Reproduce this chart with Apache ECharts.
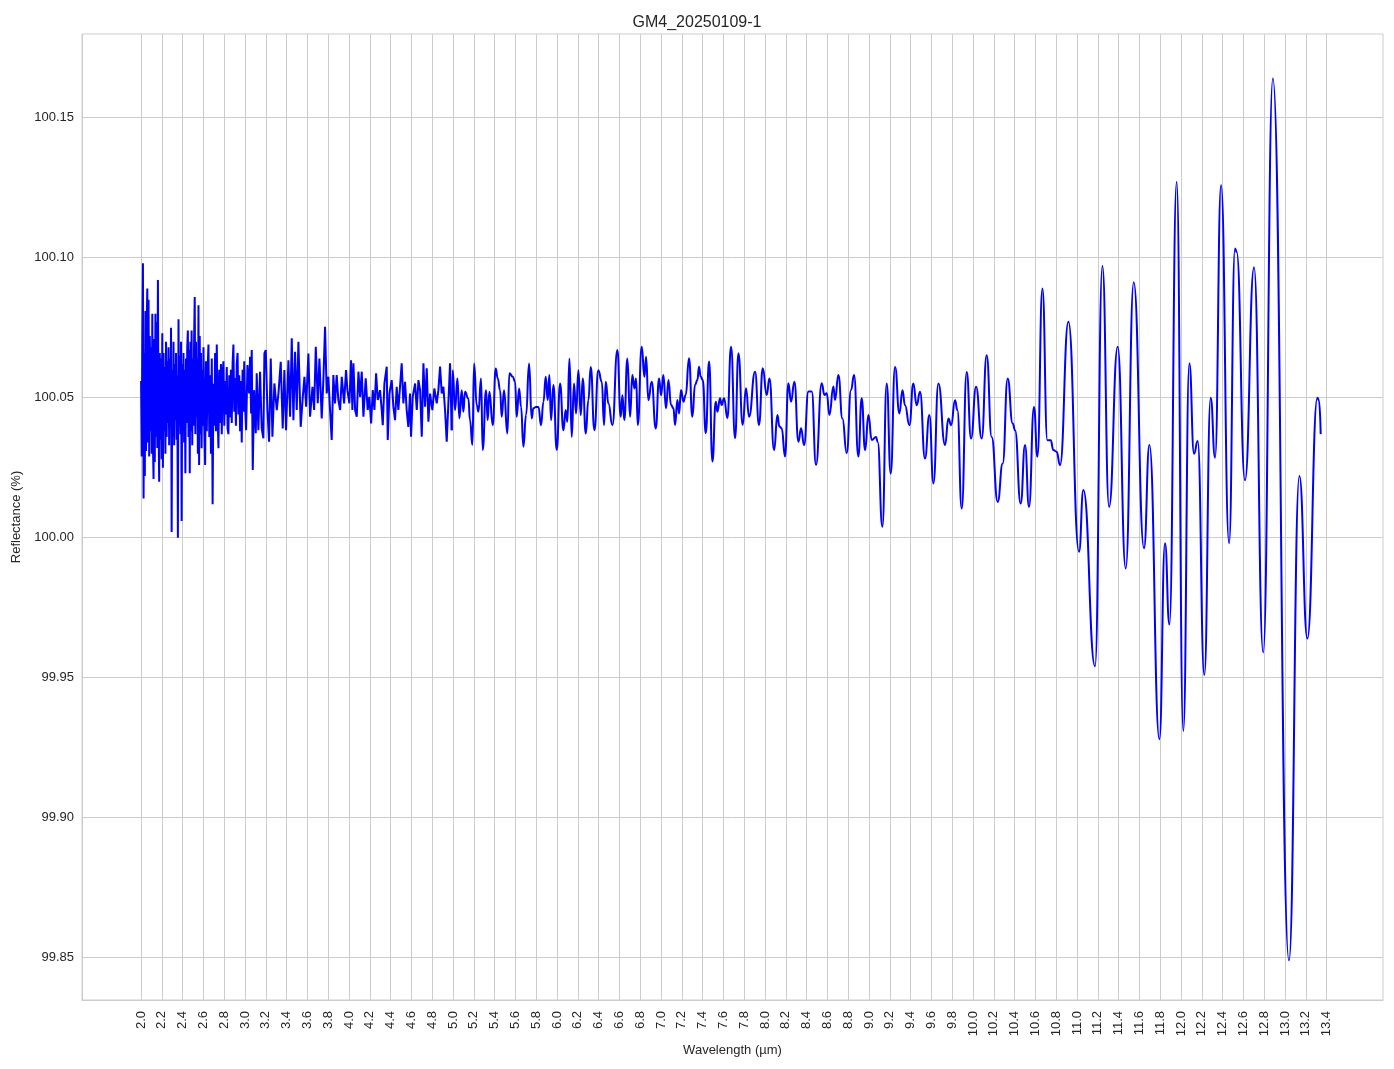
<!DOCTYPE html>
<html>
<head>
<meta charset="utf-8">
<script src="https://cdn.jsdelivr.net/npm/echarts@6/dist/echarts.min.js"></script>
<style>
html,body{margin:0;padding:0;background:#fff;}
#chart{width:1394px;height:1069px;}
</style>
</head>
<body>
<div id="chart"></div>
<script>
const chartTitle = "GM4_20250109-1";
const xName = "Wavelength (µm)";
const yName = "Reflectance (%)";

const xTicks = [2.0,2.2,2.4,2.6,2.8,3.0,3.2,3.4,3.6,3.8,4.0,4.2,4.4,4.6,4.8,5.0,5.2,5.4,5.6,5.8,6.0,6.2,6.4,6.6,6.8,7.0,7.2,7.4,7.6,7.8,8.0,8.2,8.4,8.6,8.8,9.0,9.2,9.4,9.6,9.8,10.0,10.2,10.4,10.6,10.8,11.0,11.2,11.4,11.6,11.8,12.0,12.2,12.4,12.6,12.8,13.0,13.2,13.4];
const yTicks = [99.85,99.90,99.95,100.00,100.05,100.10,100.15];

// densely sampled start of the spectrum (regular wavelength grid)
const denseStartA = 2.0, denseStepA = 0.006;
const reflDenseA = [100.056,100.029,100.072,100.098,100.014,100.066,100.022,100.081,100.031,100.077,
100.089,100.034,100.085,100.029,100.072,100.038,100.068,100.030,100.080,100.034,
100.021,100.071,100.027,100.080,100.036,100.077,100.032,100.092,100.040,100.020,
100.066,100.035,100.064,100.028,100.073,100.025,100.066,100.038,100.061,100.030,
100.070,100.036,100.063,100.041,100.068,100.033,100.064,100.040,100.075,100.002,
100.060,100.036,100.070,100.033,100.062,100.042,100.066,100.035,100.058,100.000,
100.078,100.040,100.065,100.037,100.070,100.006,100.062,100.039,100.066,100.034,
100.060,100.023,100.064,100.041,100.068,100.074,100.036,100.067,100.023,100.070,
100.038,100.074,100.033,100.064,100.040,100.071,100.086,100.037,100.070,100.043,
100.064,100.030,100.083,100.026,100.072,100.037,100.066,100.032,100.060,100.040,100.068];

const denseStartB = 2.608, denseStepB = 0.008;
const reflDenseB = [100.040,100.026,100.063,100.038,100.060,100.069,100.036,100.058,100.030,100.064,
100.012,100.055,100.040,100.066,100.038,100.069,100.044,100.032,100.060,100.041,
100.062,100.037,100.058,100.063,100.040,100.056,100.044,100.061,100.039,100.037,
100.058,100.043,100.060,100.041,100.062,100.069,100.045,100.057,100.040,100.062,
100.066,100.044,100.058,100.038,100.056,100.034,100.060,100.045,100.063,100.047];

const wlNoisy = [3.010,3.023,3.039,3.048,3.058,3.064,3.074,3.087,3.103,3.112,3.128,3.144,3.160,3.176,3.186,3.199,3.215,3.231,3.247,3.263,
3.282,3.305,3.321,3.343,3.362,3.378,3.394,3.417,3.433,3.449,3.465,3.481,3.497,3.513,3.535,3.555,3.571,3.587,3.609,3.625,
3.648,3.664,3.680,3.699,3.715,3.737,3.753,3.769,3.785,3.801,3.817,3.833,3.849,3.865,3.881,3.897,3.914,3.930,3.952,3.971,3.984,
4.003,4.019,4.032,4.042,4.058,4.074,4.090,4.106,4.122,4.138,4.160,4.179,4.195,4.212,4.228,4.244,4.260,4.276,4.298,4.314,
4.324,4.340,4.362,4.372,4.388,4.410,4.426,4.442,4.458,4.474,4.490,4.506,4.522,4.538,4.554,4.570,4.586,4.596,4.612,4.635,
4.651,4.667,4.683,4.699,4.715,4.731,4.747,4.763,4.779,4.801,4.820,4.843,4.859,4.875,4.891,4.907,4.923,4.939,4.955,4.971,4.987];
const reflNoisy = [100.0384,100.0617,100.0515,100.0646,100.0444,100.0670,100.0242,100.0527,100.0373,100.0587,100.0384,100.0593,100.0390,100.0355,100.0658,100.0670,100.0456,100.0343,100.0640,100.0361,
100.0551,100.0456,100.0515,100.0628,100.0390,100.0599,100.0384,100.0634,100.0432,100.0712,100.0420,100.0664,100.0456,100.0700,100.0396,100.0503,100.0575,100.0468,100.0658,100.0432,
100.0539,100.0456,100.0682,100.0480,100.0640,100.0426,100.0563,100.0753,100.0515,100.0575,100.0456,100.0349,100.0581,100.0480,100.0581,100.0492,100.0456,100.0575,100.0480,100.0599,100.0527,
100.0480,100.0634,100.0456,100.0623,100.0456,100.0432,100.0593,100.0503,100.0593,100.0432,100.0569,100.0456,100.0503,100.0408,100.0527,100.0456,100.0587,100.0492,100.0527,100.0456,
100.0402,100.0551,100.0611,100.0349,100.0515,100.0563,100.0468,100.0420,100.0539,100.0456,100.0539,100.0623,100.0480,100.0557,100.0456,100.0396,100.0515,100.0361,100.0503,100.0551,
100.0456,100.0563,100.0527,100.0361,100.0623,100.0468,100.0605,100.0414,100.0515,100.0456,100.0533,100.0480,100.0527,100.0611,100.0515,100.0539,100.0456,100.0343,100.0480,100.0623,100.0384];

const wlSmooth = [4.997,5.019,5.042,5.061,5.083,5.099,5.115,5.147,5.163,5.186,5.202,5.228,5.244,5.269,5.285,5.317,5.333,5.349,5.382,5.410,
5.430,5.452,5.468,5.490,5.522,5.542,5.574,5.596,5.612,5.635,5.654,5.676,5.702,5.731,5.756,5.772,5.798,5.821,5.846,5.869,
5.891,5.910,5.926,5.942,5.965,5.997,6.029,6.061,6.083,6.099,6.119,6.141,6.163,6.183,6.205,6.228,6.247,6.276,6.301,6.324,
6.359,6.397,6.430,6.452,6.468,6.494,6.532,6.580,6.612,6.628,6.647,6.676,6.702,6.724,6.744,6.760,6.776,6.814,6.840,6.856,
6.878,6.910,6.949,6.981,7.000,7.022,7.048,7.071,7.096,7.119,7.135,7.157,7.173,7.192,7.215,7.237,7.269,7.301,7.327,7.349,
7.365,7.381,7.401,7.430,7.462,7.494,7.526,7.542,7.567,7.583,7.606,7.638,7.673,7.712,7.744,7.785,7.817,7.846,7.904,7.942,
7.978,8.016,8.042,8.087,8.119,8.138,8.160,8.192,8.224,8.250,8.282,8.321,8.346,8.375,8.417,8.449,8.490,8.545,8.571,8.593,
8.619,8.657,8.673,8.705,8.744,8.785,8.827,8.856,8.897,8.929,8.962,8.994,9.026,9.067,9.083,9.128,9.170,9.208,9.250,9.292,
9.321,9.346,9.388,9.426,9.458,9.490,9.538,9.580,9.619,9.667,9.731,9.763,9.789,9.827,9.849,9.891,9.939,9.981,10.029,10.083,
10.131,10.179,10.237,10.285,10.333,10.381,10.404,10.458,10.500,10.538,10.586,10.619,10.667,10.715,10.747,10.772,10.804,10.836,10.917,11.019,
11.061,11.173,11.244,11.308,11.391,11.468,11.545,11.644,11.696,11.792,11.846,11.888,11.958,12.022,12.080,12.125,12.160,12.224,12.285,12.327,
12.385,12.462,12.519,12.535,12.615,12.702,12.790,12.883,13.038,13.138,13.215,13.311,13.327,13.343];
const reflSmooth = [100.0598,100.0456,100.0569,100.0426,100.0527,100.0450,100.0521,100.0497,100.0420,100.0331,100.0622,100.0473,100.0450,100.0569,100.0313,100.0527,100.0420,100.0521,100.0402,100.0604,
100.0569,100.0527,100.0432,100.0527,100.0372,100.0587,100.0575,100.0557,100.0432,100.0533,100.0467,100.0325,100.0438,100.0622,100.0426,100.0462,100.0467,100.0467,100.0402,100.0485,
100.0575,100.0491,100.0581,100.0420,100.0545,100.0313,100.0551,100.0384,100.0456,100.0414,100.0640,100.0360,100.0551,100.0444,100.0598,100.0438,100.0569,100.0372,100.0491,100.0610,
100.0384,100.0598,100.0557,100.0402,100.0557,100.0479,100.0402,100.0670,100.0432,100.0509,100.0420,100.0640,100.0432,100.0581,100.0533,100.0569,100.0402,100.0682,100.0575,100.0646,
100.0491,100.0557,100.0390,100.0569,100.0509,100.0581,100.0462,100.0563,100.0474,100.0462,100.0403,100.0492,100.0444,100.0528,100.0486,100.0510,100.0641,100.0432,100.0546,100.0563,
100.0611,100.0575,100.0563,100.0373,100.0629,100.0272,100.0486,100.0450,100.0498,100.0474,100.0498,100.0427,100.0682,100.0355,100.0659,100.0403,100.0534,100.0432,100.0593,100.0403,
100.0605,100.0510,100.0569,100.0313,100.0438,100.0397,100.0391,100.0290,100.0552,100.0486,100.0557,100.0343,100.0391,100.0331,100.0522,100.0522,100.0260,100.0552,100.0510,100.0516,
100.0438,100.0540,100.0492,100.0581,100.0426,100.0302,100.0528,100.0581,100.0290,100.0498,100.0313,100.0438,100.0349,100.0360,100.0342,100.0039,100.0551,100.0229,100.0610,100.0444,
100.0527,100.0473,100.0402,100.0551,100.0473,100.0521,100.0283,100.0438,100.0194,100.0551,100.0331,100.0426,100.0402,100.0491,100.0456,100.0104,100.0592,100.0354,100.0539,100.0354,
100.0652,100.0360,100.0128,100.0265,100.0569,100.0408,100.0384,100.0122,100.0331,100.0110,100.0467,100.0289,100.0890,100.0348,100.0348,100.0313,100.0307,100.0259,100.0771,99.9950,
100.0170,99.9541,100.0970,100.0110,100.0682,99.9890,100.0912,99.9962,100.0331,99.9280,99.9980,99.9690,100.1270,99.9310,100.0623,100.0300,100.0345,99.9510,100.0500,100.0286,
100.1260,99.9980,100.1033,100.1020,100.0205,100.0966,99.9590,100.1640,99.8490,100.0220,99.9640,100.0500,100.0490,100.0370];

// build [x, y] pairs from the arrays above
const roughData = [];
reflDenseA.forEach((v, i) => roughData.push([+(denseStartA + i * denseStepA).toFixed(4), v]));
reflDenseB.forEach((v, i) => roughData.push([+(denseStartB + i * denseStepB).toFixed(4), v]));
wlNoisy.forEach((w, i) => roughData.push([w, reflNoisy[i]]));
const smoothData = [[wlNoisy[wlNoisy.length - 1], reflNoisy[reflNoisy.length - 1]]];
wlSmooth.forEach((w, i) => smoothData.push([w, reflSmooth[i]]));

const textColor = '#262626';
const gridColor = '#cccccc';
const fontFamily = 'Liberation Sans, Arial, sans-serif';

const chart = echarts.init(document.getElementById('chart'), null, {renderer: 'canvas'});
chart.setOption({
  animation: false,
  backgroundColor: '#ffffff',
  title: {
    text: chartTitle, left: 'center', top: 10,
    textStyle: {fontFamily, fontSize: 16, fontWeight: 'normal', color: textColor}
  },
  grid: {left: 82, right: 11, top: 34, bottom: 69, show: true, borderColor: gridColor, borderWidth: 1,
    backgroundColor: '#ffffff', containLabel: false, outerBoundsMode: 'none'},
  xAxis: {
    type: 'value', min: 1.432, max: 13.942,
    name: xName, nameLocation: 'middle', nameGap: 42,
    nameTextStyle: {fontFamily, fontSize: 13, color: textColor},
    axisLine: {show: true, lineStyle: {color: gridColor}},
    axisTick: {show: false, customValues: xTicks},
    axisLabel: {customValues: xTicks, rotate: 90, margin: 11, fontFamily, fontSize: 13, color: textColor,
      formatter: v => Number(v).toFixed(1)},
    splitLine: {show: true, lineStyle: {color: gridColor, width: 1}}
  },
  yAxis: {
    type: 'value', min: 99.8349, max: 100.1799,
    name: yName, nameLocation: 'middle', nameGap: 53, nameRotate: 90,
    nameTextStyle: {fontFamily, fontSize: 13, color: textColor},
    axisLine: {show: true, lineStyle: {color: gridColor}},
    axisTick: {show: false, customValues: yTicks},
    axisLabel: {customValues: yTicks, margin: 8, fontFamily, fontSize: 13, color: textColor,
      formatter: v => Number(v).toFixed(2)},
    splitLine: {show: true, lineStyle: {color: gridColor, width: 1}}
  },
  series: [
    {type: 'line', data: roughData, showSymbol: false, smooth: false,
      lineStyle: {color: '#0000ff', width: 2}, z: 3},
    {type: 'line', data: smoothData, showSymbol: false, smooth: 0.5, smoothMonotone: 'x',
      lineStyle: {color: '#0000ff', width: 2}, z: 3}
  ]
});
</script>
</body>
</html>
